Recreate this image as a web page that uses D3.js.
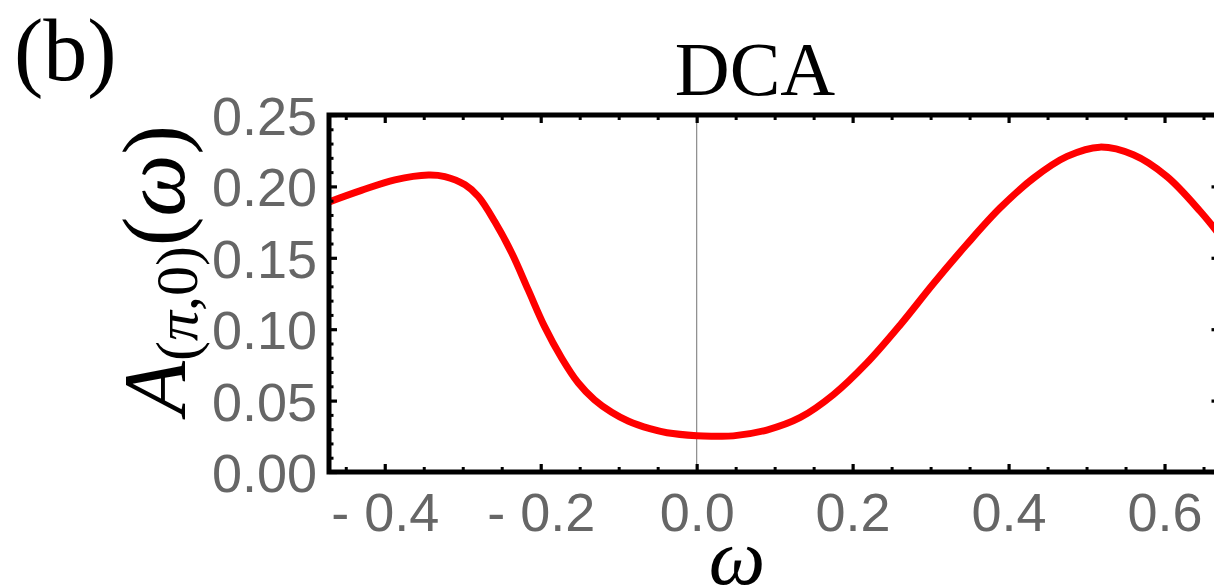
<!DOCTYPE html>
<html>
<head>
<meta charset="utf-8">
<script src="https://cdn.jsdelivr.net/npm/d3@7"></script>
<style>
  html, body { margin: 0; padding: 0; background: #fff; overflow: hidden; }
  svg { display: block; }
</style>
</head>
<body>
<svg id="chart" width="1214" height="586"></svg>
<script>
// ---- data ----
const omega = [-0.472, -0.43, -0.387, -0.344, -0.323, -0.297, -0.28, -0.259, -0.237, -0.216,
               -0.195, -0.173, -0.152, -0.131, -0.109, -0.088, -0.06, -0.038, 0.0, 0.02,
               0.047, 0.09, 0.133, 0.175, 0.218, 0.261, 0.304, 0.346, 0.389, 0.432,
               0.475, 0.517, 0.56, 0.603, 0.646, 0.672];
const spectral = [0.1890, 0.1972, 0.2046, 0.2080, 0.2069, 0.2011, 0.1929, 0.1754, 0.1532, 0.1275,
                  0.1018, 0.0797, 0.0625, 0.0505, 0.0418, 0.0357, 0.0303, 0.0275, 0.0254, 0.0251,
                  0.0253, 0.0294, 0.0382, 0.0540, 0.0762, 0.1030, 0.1322, 0.1591, 0.1848, 0.2058,
                  0.2210, 0.2275, 0.2221, 0.2069, 0.1824, 0.1650];
const xMajorTicks = [-0.4, -0.2, 0.0, 0.2, 0.4, 0.6];
const xMinorTicks = [-0.45, -0.35, -0.3, -0.25, -0.15, -0.1, -0.05, 0.05, 0.1, 0.15, 0.25, 0.3, 0.35, 0.45, 0.5, 0.55, 0.65];
const yMajorTicks = [0.00, 0.05, 0.10, 0.15, 0.20, 0.25];
const yMinorTicks = [0.01,0.02,0.03,0.04,0.06,0.07,0.08,0.09,0.11,0.12,0.13,0.14,0.16,0.17,0.18,0.19,0.21,0.22,0.23,0.24];
const titleText = "DCA";
const panelLabel = "(b)";

// ---- layout ----
const pLeft = 329, pRight = 1219.5, pTop = 115, pBottom = 472;
const svg = d3.select("#chart");

const x = d3.scaleLinear().domain([-0.4715, 0.6705]).range([pLeft, pRight]);
const y = d3.scaleLinear().domain([0, 0.25]).range([pBottom, pTop]);

const tickFont = "'Liberation Sans', Arial, sans-serif";
const labelGray = "#666666";

// clip for the plotted line
svg.append("defs").append("clipPath").attr("id", "clip")
  .append("rect").attr("x", pLeft).attr("y", pTop).attr("width", pRight - pLeft).attr("height", pBottom - pTop);

// vertical line at omega = 0
svg.append("line")
  .attr("x1", x(0)).attr("x2", x(0)).attr("y1", pTop).attr("y2", pBottom)
  .attr("stroke", "#8a8a8a").attr("stroke-width", 1.2);

// curve
const pts = omega.map((w, i) => [w, spectral[i]]);
svg.append("path")
  .datum(pts)
  .attr("clip-path", "url(#clip)")
  .attr("fill", "none")
  .attr("stroke", "#ff0000")
  .attr("stroke-width", 7)
  .attr("stroke-linejoin", "round")
  .attr("d", d3.line().x(d => x(d[0])).y(d => y(d[1])).curve(d3.curveCatmullRom.alpha(0.5)));

function styleTicks(g, w) {
  g.select(".domain").remove();
  g.selectAll(".tick line").attr("stroke", "#000").attr("stroke-width", w);
}

// bottom axis (inward ticks)
const gxMinor = svg.append("g").attr("transform", `translate(0,${pBottom})`)
  .call(d3.axisBottom(x).tickValues(xMinorTicks).tickSize(-5).tickFormat(""));
styleTicks(gxMinor, 3);
const gx = svg.append("g").attr("transform", `translate(0,${pBottom})`)
  .call(d3.axisBottom(x).tickValues(xMajorTicks).tickSize(-8)
        .tickFormat(d => d < 0 ? "- " + d3.format(".1f")(-d) : d3.format(".1f")(d)));
styleTicks(gx, 3.2);
gx.selectAll(".tick text")
  .attr("y", 59).attr("dy", null)
  .attr("fill", labelGray).attr("font-family", tickFont).attr("font-size", 54);

// top axis (ticks only)
const gtMinor = svg.append("g").attr("transform", `translate(0,${pTop})`)
  .call(d3.axisTop(x).tickValues(xMinorTicks).tickSize(-5).tickFormat(""));
styleTicks(gtMinor, 3);
const gt = svg.append("g").attr("transform", `translate(0,${pTop})`)
  .call(d3.axisTop(x).tickValues(xMajorTicks).tickSize(-8).tickFormat(""));
styleTicks(gt, 3.2);

// left axis
const gyMinor = svg.append("g").attr("transform", `translate(${pLeft},0)`)
  .call(d3.axisLeft(y).tickValues(yMinorTicks).tickSize(-4.5).tickFormat(""));
styleTicks(gyMinor, 3);
const gy = svg.append("g").attr("transform", `translate(${pLeft},0)`)
  .call(d3.axisLeft(y).tickValues(yMajorTicks).tickSize(-8).tickPadding(12).tickFormat(d3.format(".2f")));
styleTicks(gy, 3.2);
gy.selectAll(".tick text")
  .attr("dy", "0.36em")
  .attr("fill", labelGray).attr("font-family", tickFont).attr("font-size", 54);

// right axis (ticks only)
const grMinor = svg.append("g").attr("transform", `translate(${pRight},0)`)
  .call(d3.axisRight(y).tickValues(yMinorTicks).tickSize(-4.5).tickFormat(""));
styleTicks(grMinor, 3);
const gr = svg.append("g").attr("transform", `translate(${pRight},0)`)
  .call(d3.axisRight(y).tickValues(yMajorTicks).tickSize(-8).tickFormat(""));
styleTicks(gr, 3.2);

// frame
svg.append("rect")
  .attr("x", pLeft).attr("y", pTop).attr("width", pRight - pLeft).attr("height", pBottom - pTop)
  .attr("fill", "none").attr("stroke", "#000").attr("stroke-width", 5);

const serif = "'Liberation Serif', 'Times New Roman', serif";

// title
svg.append("text")
  .attr("x", 755).attr("y", 95).attr("text-anchor", "middle")
  .attr("font-family", serif).attr("font-size", 76).attr("fill", "#000")
  .text(titleText);

// panel label
svg.append("text")
  .attr("x", 14).attr("y", 80)
  .attr("font-family", serif).attr("font-size", 88).attr("fill", "#000")
  .text(panelLabel);

// x-axis label
svg.append("text")
  .attr("x", 737).attr("y", 584).attr("text-anchor", "middle")
  .attr("font-family", serif).attr("font-style", "italic").attr("font-size", 80).attr("fill", "#000")
  .text("ω");

// y-axis label A_(π,0)(ω)
const yl = svg.append("text")
  .attr("transform", "translate(184,270) rotate(-90)")
  .attr("text-anchor", "middle")
  .attr("font-family", serif).attr("font-size", 88).attr("fill", "#000");
yl.append("tspan").attr("font-style", "italic").text("A");
yl.append("tspan").attr("font-size", 60).attr("dy", 13).text("(");
yl.append("tspan").attr("font-size", 60).attr("font-style", "italic").text("π");
yl.append("tspan").attr("font-size", 60).text(",0)");
yl.append("tspan").attr("dy", -13).text("(");
yl.append("tspan").attr("font-style", "italic").attr("font-weight", "normal").text("ω");
yl.append("tspan").text(")");
</script>
</body>
</html>
